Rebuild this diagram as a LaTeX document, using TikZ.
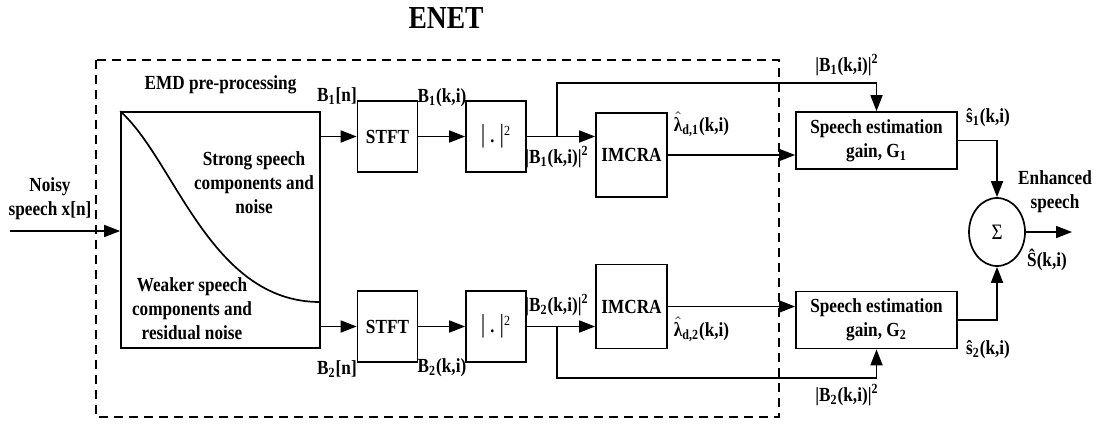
\documentclass[tikz,border=0pt]{standalone}
\usepackage{fontspec}
\setmainfont{Liberation Serif}[FakeStretch=0.86]
\usetikzlibrary{positioning, arrows.meta, shapes.geometric, calc}

\newcommand{\lamhat}{$\hat{\mbox{λ}}$}
\newcommand{\sqmag}{{\fontsize{13}{15}\selectfont\mdseries|\,.\,|}\textsuperscript{\mdseries 2}}

\begin{document}
\begin{tikzpicture}[
    x=0.5pt, y=-0.5pt,
    line width=0.85pt,
    font=\fontsize{10}{12}\selectfont\bfseries,
    >={Triangle[length=8pt, width=6pt]},
    block/.style={draw, rectangle, inner sep=1pt, align=center},
    fftbox/.style={block, minimum width=30pt, minimum height=35.5pt},
    nbox/.style={block, minimum width=35.5pt, minimum height=42pt},
    gbox/.style={block, minimum width=80.5pt, minimum height=28.5pt},
    txt/.style={align=center, inner sep=0pt}
]
    \useasboundingbox (0,0) rectangle (1106,424);

    % Title and enclosing frame
    \node[font=\fontsize{16}{18}\selectfont\bfseries] (title) at (446,18) {ENET};
    \draw[line width=1.2pt, dash pattern=on 4.5pt off 3pt] (96,60) rectangle (779,417);

    % EMD block
    \node[block, minimum width=99.5pt, minimum height=118pt] (emd) at (220.5,230) {};
    \coordinate (emdend) at (320,302);
    \draw (emd.north west) .. controls (175,160) and (210,302) .. (emdend);
    \node[txt] (strong) at (254,183) {Strong speech\\components and\\noise};
    \node[txt] (weak) at (192,309) {Weaker speech\\components and\\residual noise};
    \node[txt, above=8pt of emd] (emdlbl) {EMD pre-processing};

    % Input
    \coordinate (xin) at (10,231);
    \node[txt] (noisy) at (50,199) {Noisy\\speech x[n]};
    \draw[->] (xin) -- (xin -| emd.west);

    % STFT and magnitude
    \node[fftbox] (stft1) at (387.5,136.5) {STFT};
    \node[fftbox] (stft2) at (387.5,326.5) {STFT};
    \node[fftbox] (abs1) at (496,136.5) {\sqmag};
    \node[fftbox] (abs2) at (496,326.5) {\sqmag};
    \draw[->] (stft1.west -| emd.east) -- (stft1.west);
    \draw[->] (stft2.west -| emd.east) -- (stft2.west);
    \draw[->] (stft1) -- (abs1);
    \draw[->] (stft2) -- (abs2);
    \node[txt] (b1n) at (337,96) {B\textsubscript{1}[n]};
    \node[txt] (b2n) at (337,369) {B\textsubscript{2}[n]};
    \node[txt] (b1k) at (442,98) {B\textsubscript{1}(k,i)};
    \node[txt] (b2k) at (442,368) {B\textsubscript{2}(k,i)};

    % Noise estimation
    \node[nbox] (imcra1) at (631.5,155) {IMCRA};
    \node[nbox] (imcra2) at (631.5,306.5) {IMCRA};
    \draw[->] (abs1.east) -- (abs1.east -| imcra1.west);
    \draw[->] (abs2.east) -- (abs2.east -| imcra2.west);
    \node[txt] (p1a) at (557,157) {|B\textsubscript{1}(k,i)|\textsuperscript{2}};
    \node[txt] (p2a) at (557,305) {|B\textsubscript{2}(k,i)|\textsuperscript{2}};

    % Gain blocks
    \node[gbox] (seg1) at (876.5,140.5) {Speech estimation\\gain, G\textsubscript{1}};
    \node[gbox] (seg2) at (876.5,320) {Speech estimation\\gain, G\textsubscript{2}};
    \draw[->] (imcra1.east) -- (imcra1.east -| seg1.west);
    \draw[->] (imcra2.east) -- (imcra2.east -| seg2.west);
    \node[txt, anchor=west] (lam1) at (673,124) {\lamhat\textsubscript{d,1}(k,i)};
    \node[txt, anchor=west] (lam2) at (673,329) {\lamhat\textsubscript{d,2}(k,i)};

    % Bypass of the power spectra
    \coordinate (br1) at (557,136.5);
    \coordinate (top1) at (557,83);
    \coordinate (br2) at (557,326.5);
    \coordinate (bot2) at (557,378);
    \draw[->] (br1) -- (top1) -| (seg1.north);
    \draw[->] (br2) -- (bot2) -| (seg2.south);
    \node[txt] (p1b) at (847,65) {|B\textsubscript{1}(k,i)|\textsuperscript{2}};
    \node[txt] (p2b) at (847,395) {|B\textsubscript{2}(k,i)|\textsuperscript{2}};

    % Summation and output
    \node[draw, ellipse, minimum width=28pt, minimum height=34pt, inner sep=0pt,
          font=\fontsize{11}{13}\selectfont\mdseries] (sum) at (997,232) {Σ};
    \draw[->] (seg1.east) -| (sum.north);
    \draw[->] (seg2.east) -| (sum.south);
    \coordinate (yout) at (1072,232);
    \draw[->] (sum.east) -- (yout);
    \node[txt] (s1) at (988,118) {ŝ\textsubscript{1}(k,i)};
    \node[txt] (s2) at (988,350) {ŝ\textsubscript{2}(k,i)};
    \node[txt] (enh) at (1055,192) {Enhanced\\speech};
    \node[txt] (shat) at (1047,260) {Ŝ(k,i)};
\end{tikzpicture}
\end{document}
